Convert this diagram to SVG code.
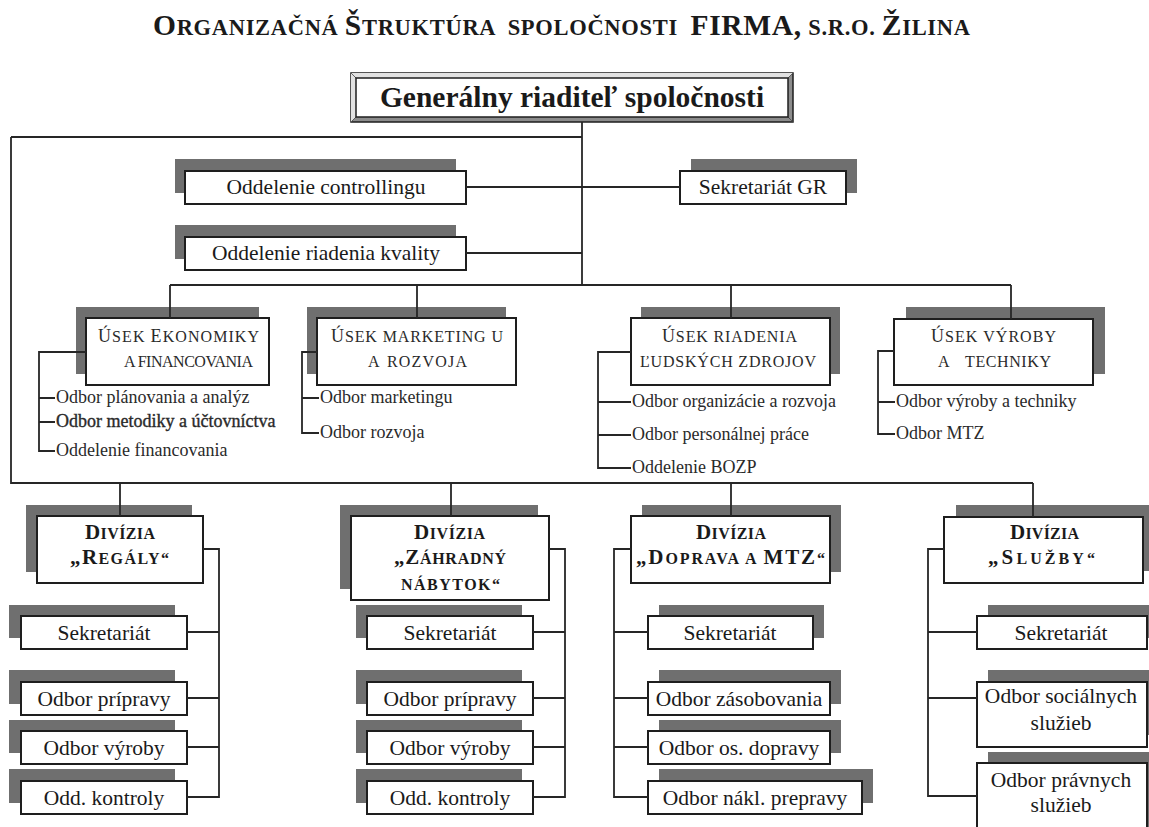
<svg xmlns="http://www.w3.org/2000/svg" width="1149" height="827" viewBox="0 0 1149 827">
  <style>
    .bg { fill: #ffffff; }
    .box { fill: #ffffff; stroke: #1e1e1e; stroke-width: 2; }
    .sh { fill: #6f6f6f; }
    .ln { fill: none; stroke: #262626; stroke-width: 1.8; }
    .t { font-family: "Liberation Serif", "Times New Roman", serif; fill: #1a1a1a; }
    .lbl { font-size: 21.5px; text-anchor: middle; }
    .sub { font-size: 18px; fill: #2a2a2a; }
    .sec { font-size: 16px; fill: #2a2a2a; }
    .dv { font-weight: bold; font-size: 16px; }
    .big { font-size: 21px; }
    .secbig { font-size: 18px; }
  </style>

  <rect class="bg" x="0" y="0" width="1149" height="827"/>

  <!-- title -->
  <g id="title">
    <text class="t" x="153" y="35" font-weight="bold" font-size="22.5" textLength="817" lengthAdjust="spacing" xml:space="preserve"><tspan font-size="29.5">O</tspan>RGANIZAČNÁ <tspan font-size="29.5">Š</tspan>TRUKTÚRA  SPOLOČNOSTI  <tspan font-size="29.5">FIRMA,</tspan> S.R.O. <tspan font-size="29.5">Ž</tspan>ILINA</text>
  </g>

  <!-- general director -->
  <g id="gr">
    <rect x="351" y="73" width="442" height="49" fill="#8c8c8c" stroke="#1e1e1e" stroke-width="1.5"/>
    <polygon points="351,73 793,73 788,78 356,78 356,117 351,122" fill="#e2e2e2"/>
    <line x1="351" y1="73" x2="356" y2="78" stroke="#444" stroke-width="0.8"/>
    <line x1="793" y1="73" x2="788" y2="78" stroke="#444" stroke-width="0.8"/>
    <line x1="351" y1="122" x2="356" y2="117" stroke="#444" stroke-width="0.8"/>
    <line x1="793" y1="122" x2="788" y2="117" stroke="#444" stroke-width="0.8"/>
    <rect x="356" y="78" width="432" height="39" fill="#ffffff" stroke="#1e1e1e" stroke-width="1.5"/>
    <text class="t" x="572" y="107" text-anchor="middle" font-weight="bold" font-size="29.5">Generálny riaditeľ spoločnosti</text>
  </g>

  <!-- staff units -->
  <g id="controlling">
    <rect class="sh" x="175" y="159" width="281" height="34"/>
    <rect class="box" x="185" y="171" width="281" height="33"/>
    <text class="t lbl" x="326" y="194">Oddelenie controllingu</text>
  </g>
  <g id="sekretariat-gr">
    <rect class="sh" x="691" y="159" width="166" height="34"/>
    <rect class="box" x="680" y="171" width="166" height="33"/>
    <text class="t lbl" x="763" y="194">Sekretariát GR</text>
  </g>
  <g id="kvalita">
    <rect class="sh" x="175" y="225" width="281" height="34"/>
    <rect class="box" x="185" y="237" width="281" height="33"/>
    <text class="t lbl" x="326" y="260">Oddelenie riadenia kvality</text>
  </g>

  <!-- sections -->
  <g id="usek-ekonomiky">
    <rect class="sh" x="76" y="307" width="183" height="67"/>
    <rect class="box" x="86" y="318" width="183" height="67"/>
    <text class="t sec" x="98" y="342" textLength="161" lengthAdjust="spacing"><tspan class="secbig">Ú</tspan>SEK <tspan class="secbig">E</tspan>KONOMIKY</text>
    <text class="t sec" x="124" y="367" textLength="129" lengthAdjust="spacing">A FINANCOVANIA</text>
    <text class="t sub" x="56" y="403">Odbor plánovania a analýz</text>
    <text class="t sub" x="56" y="427" stroke="#2a2a2a" stroke-width="0.35">Odbor metodiky a účtovníctva</text>
    <text class="t sub" x="56" y="456">Oddelenie financovania</text>
  </g>
  <g id="usek-marketingu">
    <rect class="sh" x="307" y="307" width="199" height="67"/>
    <rect class="box" x="317" y="318" width="199" height="67"/>
    <text class="t sec" x="331" y="342" textLength="172" lengthAdjust="spacing"><tspan class="secbig">Ú</tspan>SEK MARKETING U</text>
    <text class="t sec" x="368" y="367">A</text>
    <text class="t sec" x="387" y="367" textLength="80" lengthAdjust="spacing">ROZVOJA</text>
    <text class="t sub" x="320" y="403">Odbor marketingu</text>
    <text class="t sub" x="320" y="438">Odbor rozvoja</text>
  </g>
  <g id="usek-lz">
    <rect class="sh" x="641" y="307" width="199" height="67"/>
    <rect class="box" x="631" y="318" width="199" height="67"/>
    <text class="t sec" x="662" y="342" textLength="135" lengthAdjust="spacing"><tspan class="secbig">Ú</tspan>SEK RIADENIA</text>
    <text class="t sec" x="640" y="367" textLength="176" lengthAdjust="spacing">ĽUDSKÝCH ZDROJOV</text>
    <text class="t sub" x="632" y="407">Odbor organizácie a rozvoja</text>
    <text class="t sub" x="632" y="440">Odbor personálnej práce</text>
    <text class="t sub" x="632" y="473">Oddelenie BOZP</text>
  </g>
  <g id="usek-vyroby">
    <rect class="sh" x="906" y="307" width="199" height="67"/>
    <rect class="box" x="894" y="319" width="199" height="66"/>
    <text class="t sec" x="931" y="342" textLength="125" lengthAdjust="spacing"><tspan class="secbig">Ú</tspan>SEK VÝROBY</text>
    <text class="t sec" x="938" y="367">A</text>
    <text class="t sec" x="965" y="367" textLength="86" lengthAdjust="spacing">TECHNIKY</text>
    <text class="t sub" x="896" y="407">Odbor výroby a techniky</text>
    <text class="t sub" x="896" y="439">Odbor MTZ</text>
  </g>

  <!-- division Regály -->
  <g id="divizia-regaly">
    <rect class="sh" x="26" y="505" width="166" height="67"/>
    <rect class="box" x="37" y="516" width="166" height="67"/>
    <text class="t dv" x="85" y="539" textLength="70" lengthAdjust="spacing"><tspan class="big">D</tspan>IVÍZIA</text>
    <text class="t dv" x="70" y="564" textLength="99" lengthAdjust="spacing"><tspan class="big">„R</tspan>EGÁLY“</text>
  </g>
  <g id="regaly-sekretariat">
    <rect class="sh" x="9" y="605" width="166" height="33"/>
    <rect class="box" x="21" y="616" width="166" height="33"/>
    <text class="t lbl" x="104" y="640">Sekretariát</text>
  </g>
  <g id="regaly-priprava">
    <rect class="sh" x="9" y="670" width="166" height="34"/>
    <rect class="box" x="21" y="682" width="166" height="33"/>
    <text class="t lbl" x="104" y="706">Odbor prípravy</text>
  </g>
  <g id="regaly-vyroba">
    <rect class="sh" x="9" y="720" width="166" height="33"/>
    <rect class="box" x="21" y="731" width="166" height="33"/>
    <text class="t lbl" x="104" y="755">Odbor výroby</text>
  </g>
  <g id="regaly-kontrola">
    <rect class="sh" x="9" y="769" width="166" height="34"/>
    <rect class="box" x="21" y="781" width="166" height="33"/>
    <text class="t lbl" x="104" y="805">Odd. kontroly</text>
  </g>

  <!-- division Záhradný nábytok -->
  <g id="divizia-nabytok">
    <rect class="sh" x="340" y="505" width="198" height="84"/>
    <rect class="box" x="351" y="516" width="198" height="84"/>
    <text class="t dv" x="414" y="539" textLength="71" lengthAdjust="spacing"><tspan class="big">D</tspan>IVÍZIA</text>
    <text class="t dv" x="394" y="564" textLength="112" lengthAdjust="spacing"><tspan class="big">„Z</tspan>ÁHRADNÝ</text>
    <text class="t dv" x="401" y="590" textLength="99" lengthAdjust="spacing">NÁBYTOK“</text>
  </g>
  <g id="nabytok-sekretariat">
    <rect class="sh" x="356" y="605" width="166" height="33"/>
    <rect class="box" x="367" y="616" width="166" height="33"/>
    <text class="t lbl" x="450" y="640">Sekretariát</text>
  </g>
  <g id="nabytok-priprava">
    <rect class="sh" x="356" y="670" width="166" height="34"/>
    <rect class="box" x="367" y="682" width="166" height="33"/>
    <text class="t lbl" x="450" y="706">Odbor prípravy</text>
  </g>
  <g id="nabytok-vyroba">
    <rect class="sh" x="356" y="720" width="166" height="33"/>
    <rect class="box" x="367" y="731" width="166" height="33"/>
    <text class="t lbl" x="450" y="755">Odbor výroby</text>
  </g>
  <g id="nabytok-kontrola">
    <rect class="sh" x="356" y="769" width="166" height="34"/>
    <rect class="box" x="367" y="781" width="166" height="33"/>
    <text class="t lbl" x="450" y="805">Odd. kontroly</text>
  </g>

  <!-- division Doprava a MTZ -->
  <g id="divizia-doprava">
    <rect class="sh" x="642" y="505" width="199" height="67"/>
    <rect class="box" x="631" y="516" width="199" height="67"/>
    <text class="t dv" x="696" y="539" textLength="70" lengthAdjust="spacing"><tspan class="big">D</tspan>IVÍZIA</text>
    <text class="t dv" x="636" y="564" textLength="189" lengthAdjust="spacing"><tspan class="big">„D</tspan>OPRAVA A <tspan class="big">MTZ</tspan>“</text>
  </g>
  <g id="doprava-sekretariat">
    <rect class="sh" x="659" y="605" width="165" height="33"/>
    <rect class="box" x="648" y="616" width="165" height="33"/>
    <text class="t lbl" x="730" y="640">Sekretariát</text>
  </g>
  <g id="doprava-zasobovanie">
    <rect class="sh" x="659" y="670" width="182" height="34"/>
    <rect class="box" x="648" y="682" width="182" height="33"/>
    <text class="t lbl" x="739" y="706">Odbor zásobovania</text>
  </g>
  <g id="doprava-osobna">
    <rect class="sh" x="659" y="720" width="182" height="33"/>
    <rect class="box" x="648" y="731" width="182" height="33"/>
    <text class="t lbl" x="739" y="755">Odbor os. dopravy</text>
  </g>
  <g id="doprava-nakladna">
    <rect class="sh" x="659" y="769" width="214" height="34"/>
    <rect class="box" x="648" y="781" width="214" height="33"/>
    <text class="t lbl" x="755" y="805">Odbor nákl. prepravy</text>
  </g>

  <!-- division Služby -->
  <g id="divizia-sluzby">
    <rect class="sh" x="956" y="505" width="199" height="66"/>
    <rect class="box" x="944" y="517" width="199" height="66"/>
    <text class="t dv" x="1010" y="539" textLength="69" lengthAdjust="spacing"><tspan class="big">D</tspan>IVÍZIA</text>
    <text class="t dv" x="988" y="564" textLength="107" lengthAdjust="spacing"><tspan class="big">„S</tspan>LUŽBY“</text>
  </g>
  <g id="sluzby-sekretariat">
    <rect class="sh" x="988" y="605" width="170" height="33"/>
    <rect class="box" x="977" y="616" width="170" height="33"/>
    <text class="t lbl" x="1061" y="640">Sekretariát</text>
  </g>
  <g id="sluzby-socialne">
    <rect class="sh" x="988" y="670" width="170" height="65"/>
    <rect class="box" x="977" y="682" width="170" height="65"/>
    <text class="t lbl" x="1061" y="703">Odbor sociálnych</text>
    <text class="t lbl" x="1061" y="730">služieb</text>
  </g>
  <g id="sluzby-pravne">
    <rect class="sh" x="988" y="752" width="170" height="90"/>
    <rect class="box" x="977" y="763" width="170" height="80"/>
    <text class="t lbl" x="1061" y="787">Odbor právnych</text>
    <text class="t lbl" x="1061" y="812">služieb</text>
  </g>

  <!-- connectors -->
  <g id="connectors" class="ln">
    <path d="M582,122 V285"/>
    <path d="M11,137 H582"/>
    <path d="M11,137 V483 H1033"/>
    <path d="M466,187 H680"/>
    <path d="M466,253 H582"/>
    <path d="M170,285 H1011"/>
    <path d="M170,285 V318 M417,285 V318 M731,285 V318 M1011,285 V319"/>
    <path d="M86,352 H39 V451 H55 M39,398 H55 M39,422 H55"/>
    <path d="M317,352 H302 V433 H319 M302,398 H319"/>
    <path d="M631,352 H598 V468 H631 M598,402 H631 M598,435 H631"/>
    <path d="M894,351 H878 V434 H895 M878,402 H895"/>
    <path d="M120,483 V516 M451,483 V516 M731,483 V516 M1033,483 V517"/>
    <path d="M203,549 H219 V797 H187 M187,632 H219 M187,698 H219 M187,747 H219"/>
    <path d="M549,549 H565 V797 H533 M533,632 H565 M533,698 H565 M533,747 H565"/>
    <path d="M631,549 H614 V797 H648 M614,632 H648 M614,698 H648 M614,747 H648"/>
    <path d="M944,549 H928 V796 H977 M928,632 H977 M928,698 H977"/>
  </g>
</svg>
